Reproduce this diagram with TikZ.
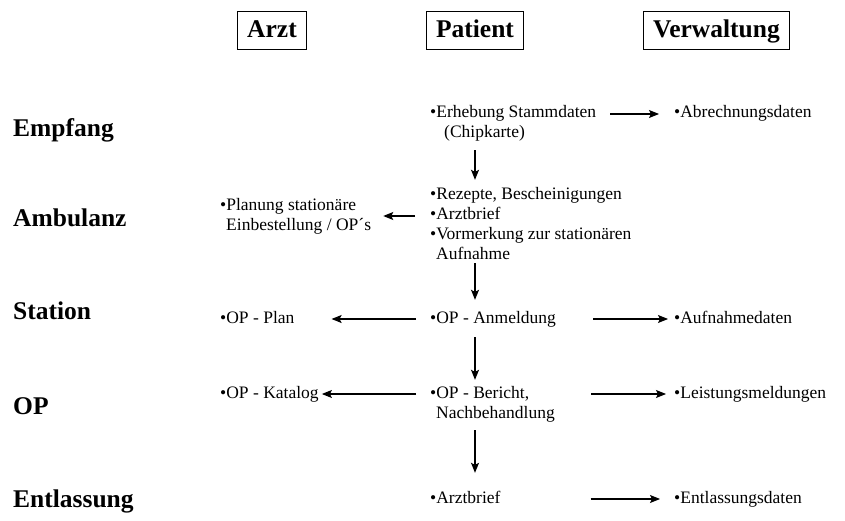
\documentclass[tikz,border=0pt]{standalone}
\usepackage{fontspec}
\setmainfont{Liberation Serif}
\usetikzlibrary{arrows.meta}
\newcommand{\hdfont}{\fontsize{25.5}{30}\selectfont\bfseries}
\newcommand{\itfont}{\fontsize{17.5}{20}\selectfont}
\tikzset{
  head/.style={draw, line width=1pt, font=\hdfont, inner xsep=9.5pt, inner ysep=0pt,
    minimum height=38pt, text height=17pt, text depth=3pt},
  rowlbl/.style={anchor=base west, inner sep=0pt, font=\hdfont},
  itm/.style={anchor=base west, inner sep=0pt, font=\itfont, text height=12pt, text depth=4pt},
  arr/.style={-{Stealth[length=10pt, width=8pt, inset=2pt]}, line width=1.1pt},
}
\begin{document}
\begin{tikzpicture}[x=1pt, y=-1pt]
\useasboundingbox (0,0) rectangle (845,521);
% headers
\node[head] (arzt) at (272,31) {Arzt};
\node[head] (patient) at (475,31) {Patient};
\node[head] (verw) at (716.5,31) {Verwaltung};
% rows
\node[rowlbl] (empfang) at (13,137) {Empfang};
\node[rowlbl] (ambulanz) at (13,226) {Ambulanz};
\node[rowlbl] (station) at (13,319) {Station};
\node[rowlbl] (op) at (13,414) {OP};
\node[rowlbl] (entlassung) at (13,507) {Entlassung};
% Patient
\node[itm] (erh) at (430,118) {•Erhebung Stammdaten};
\node[itm] (chip) at (444,138) {(Chipkarte)};
\node[itm] (rez) at (430,200) {•Rezepte, Bescheinigungen};
\node[itm] (brief) at (430,220) {•Arztbrief};
\node[itm] (vorm) at (430,240) {•Vormerkung zur stationären};
\node[itm] (aufn) at (436,259) {Aufnahme};
\node[itm] (anm) at (430,323) {•OP - Anmeldung};
\node[itm] (ber) at (430,398) {•OP - Bericht,};
\node[itm] (nach) at (436,418) {Nachbehandlung};
\node[itm] (brief2) at (430,503) {•Arztbrief};
% Arzt
\node[itm] (plan1) at (220,211) {•Planung stationäre};
\node[itm] (plan2) at (226,231) {Einbestellung / OP´s};
\node[itm] (opplan) at (220,323) {•OP - Plan};
\node[itm] (katalog) at (220,398) {•OP - Katalog};
% Verwaltung
\node[itm] (abr) at (674,118) {•Abrechnungsdaten};
\node[itm] (aufd) at (674,323) {•Aufnahmedaten};
\node[itm] (leist) at (674,398) {•Leistungsmeldungen};
\node[itm] (entl) at (674,503) {•Entlassungsdaten};
% arrows
\draw[arr, shorten <=14pt, shorten >=15pt] (erh.east) -- (erh.east -| abr.west);
\draw[arr, shorten <=8pt, shorten >=8pt] (chip.south -| patient) -- (rez.north -| patient);
\draw[arr, shorten <=15pt, shorten >=12pt] (brief.west) -- (brief.west -| plan2.east);
\draw[arr, shorten <=0pt, shorten >=11pt] (aufn.south -| patient) -- (anm.north -| patient);
\draw[arr, shorten <=14pt, shorten >=37pt] (anm.west) -- (anm.west -| opplan.east);
\draw[arr, shorten <=37pt, shorten >=6pt] (anm.east) -- (anm.east -| aufd.west);
\draw[arr, shorten <=10pt, shorten >=6pt] (anm.south -| patient) -- (ber.north -| patient);
\draw[arr, shorten <=14pt, shorten >=3pt] (ber.west) -- (ber.west -| katalog.east);
\draw[arr, shorten <=62pt, shorten >=8pt] (ber.east) -- (ber.east -| leist.west);
\draw[arr, shorten <=8pt, shorten >=18pt] (nach.south -| patient) -- (brief2.north -| patient);
\draw[arr, shorten <=90pt, shorten >=14pt] (brief2.east) -- (brief2.east -| entl.west);
\end{tikzpicture}
\end{document}
